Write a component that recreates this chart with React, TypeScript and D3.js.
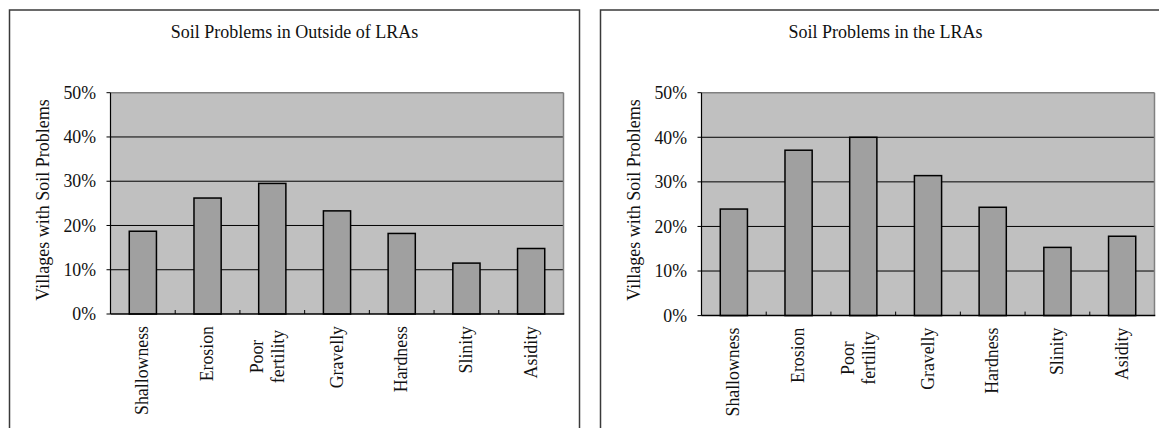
import React from 'react';
import * as d3 from 'd3';

// Share of villages reporting each soil problem (%)
const categories = ['Shallowness', 'Erosion', 'Poor fertility', 'Gravelly', 'Hardness', 'Slinity', 'Asidity'];
const outsideValues = [18.7, 26.2, 29.5, 23.3, 18.2, 11.5, 14.8];
const lraValues = [23.9, 37.1, 40.0, 31.4, 24.3, 15.3, 17.8];
const yTicks = [0, 10, 20, 30, 40, 50];
const panelTitles = ['Soil Problems in Outside of LRAs', 'Soil Problems in the LRAs'];
const yAxisTitle = 'Villages with Soil Problems';

const textStyle: React.CSSProperties = {
  fontFamily: "'Liberation Serif', 'Times New Roman', 'DejaVu Serif', serif",
  fill: '#111',
};

type PanelProps = {
  x0: number;
  title: string;
  values: number[];
  bottom: number;
};

function Panel({ x0, title, values, bottom }: PanelProps) {
  const plotLeft = x0 + 101.5;
  const plotRight = plotLeft + 453;
  const top = 92.7;

  const x = d3
    .scaleBand<string>()
    .domain(categories)
    .range([plotLeft, plotRight])
    .paddingInner(0.58)
    .paddingOuter(0.29);
  const y = d3.scaleLinear().domain([0, 50]).range([bottom, top]);
  const step = x.step();
  const fs = 17.8;

  return (
    <g>
      {/* chart frame */}
      <rect x={x0 + 0.5} y={10} width={570} height={440} fill="#fff" stroke="#3a3a3a" strokeWidth={1.5} />
      <text x={x0 + 285.5} y={38} textAnchor="middle" style={{ ...textStyle, fontSize: 18 }}>
        {title}
      </text>

      {/* plot area */}
      <rect x={plotLeft} y={top} width={plotRight - plotLeft} height={bottom - top} fill="#c0c0c0" />
      {yTicks
        .filter((t) => t > 0 && t < 50)
        .map((t) => (
          <line key={t} x1={plotLeft} x2={plotRight} y1={y(t)} y2={y(t)} stroke="#000" strokeWidth={1} />
        ))}
      <line x1={plotLeft} x2={plotRight} y1={top} y2={top} stroke="#808080" strokeWidth={1.5} />
      <line x1={plotRight} x2={plotRight} y1={top} y2={bottom} stroke="#808080" strokeWidth={1.5} />

      {/* bars */}
      {categories.map((c, i) => (
        <rect
          key={c}
          x={x(c)}
          y={y(values[i])}
          width={x.bandwidth()}
          height={bottom - y(values[i])}
          fill="#a0a0a0"
          stroke="#000"
          strokeWidth={1.5}
        />
      ))}

      {/* axes */}
      <line x1={plotLeft} x2={plotLeft} y1={top} y2={bottom} stroke="#000" strokeWidth={1.2} />
      <line x1={plotLeft} x2={plotRight + 0.75} y1={bottom} y2={bottom} stroke="#000" strokeWidth={1.5} />
      {yTicks.map((t) => (
        <g key={t}>
          <line x1={plotLeft - 4} x2={plotLeft} y1={y(t)} y2={y(t)} stroke="#000" strokeWidth={1} />
          <text x={plotLeft - 14.5} y={y(t)} dy="0.35em" textAnchor="end" style={{ ...textStyle, fontSize: fs }}>
            {`${t}%`}
          </text>
        </g>
      ))}
      {d3.range(1, categories.length).map((i) => (
        <line
          key={i}
          x1={plotLeft + i * step}
          x2={plotLeft + i * step}
          y1={bottom - 4}
          y2={bottom}
          stroke="#000"
          strokeWidth={1}
        />
      ))}

      {/* y-axis title */}
      <text
        transform={`translate(${plotLeft - 61.5},${200}) rotate(-90)`}
        textAnchor="middle"
        style={{ ...textStyle, fontSize: 18 }}
      >
        {yAxisTitle}
      </text>

      {/* category labels */}
      {categories.map((c) => {
        const cx = (x(c) ?? 0) + x.bandwidth() / 2;
        const words = c.split(' ');
        if (words.length === 1) {
          return (
            <text
              key={c}
              transform={`translate(${cx + 5.5},${bottom + 12})rotate(-90)`}
              textAnchor="end"
              style={{ ...textStyle, fontSize: fs }}
            >
              {c}
            </text>
          );
        }
        const offsets = [-9, 12];
        return (
          <g key={c}>
            {words.map((w, j) => (
              <text
                key={w}
                transform={`translate(${cx + offsets[j]},${bottom + 42.5})rotate(-90)`}
                textAnchor="middle"
                style={{ ...textStyle, fontSize: fs }}
              >
                {w}
              </text>
            ))}
          </g>
        );
      })}
    </g>
  );
}

export default function App() {
  return (
    <svg
      width={1159}
      height={428}
      viewBox="0 0 1159 428"
      style={{ position: 'absolute', left: 0, top: 0, background: '#fff' }}
    >
      <Panel x0={9} title={panelTitles[0]} values={outsideValues} bottom={314} />
      <Panel x0={600} title={panelTitles[1]} values={lraValues} bottom={315.6} />
    </svg>
  );
}
